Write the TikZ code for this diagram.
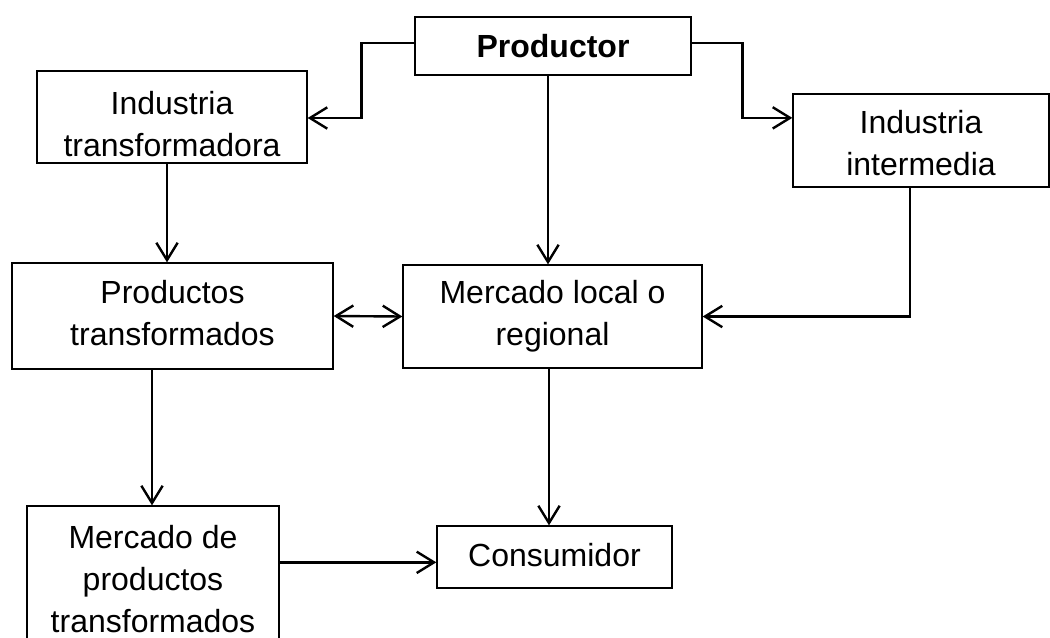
\documentclass[tikz,border=0pt]{standalone}
\usepackage{fontspec}
\setmainfont{Liberation Sans}
\usetikzlibrary{arrows.meta,calc}
\tikzset{
  box/.style={draw=black, line width=1pt, rectangle, inner sep=0pt},
  txt/.style={align=center, inner sep=0pt, font=\fontsize{24}{31.5}\selectfont},
  barb/.tip={Straight Barb[length=13pt,width=16pt,line width=1.8pt]},
  conn/.style={line width=1.8pt, -{barb}},
  conn2/.style={line width=1.8pt, {barb}-{barb}}
}
\begin{document}
\begin{tikzpicture}[x=0.75pt,y=-0.75pt]
\useasboundingbox (0,0) rectangle (1050,637);
\clip (0,0) rectangle (1050,637);
\fill[white] (0,0) rectangle (1050,637);
% boxes
\node[box, minimum width=276*0.75pt, minimum height=58*0.75pt] (prod) at (553,46) {};
\node[box, minimum width=270*0.75pt, minimum height=92*0.75pt] (itrans) at (172,117) {};
\node[box, minimum width=256*0.75pt, minimum height=93*0.75pt] (iinter) at (921,140.5) {};
\node[box, minimum width=321*0.75pt, minimum height=106*0.75pt] (ptrans) at (172.5,316) {};
\node[box, minimum width=299*0.75pt, minimum height=103*0.75pt] (mlocal) at (552.5,316.5) {};
\node[box, minimum width=252*0.75pt, minimum height=146*0.75pt] (mprod) at (153,579) {};
\node[box, minimum width=235*0.75pt, minimum height=62*0.75pt] (cons) at (554.5,557) {};
% texts
\node[txt] (prodT) at ($(prod.center)+(0,0)$) {\textbf{Productor}};
\node[txt] (itransT) at ($(itrans.center)+(0,7)$) {Industria\\transformadora};
\node[txt] (iinterT) at ($(iinter.center)+(0,3)$) {Industria\\intermedia};
\node[txt] (ptransT) at ($(ptrans.center)+(0,-2.5)$) {Productos\\transformados};
\node[txt] (mlocalT) at ($(mlocal.center)+(0,0)$) {Mercado local o\\regional};
\node[txt] (mprodT) at ($(mprod.center)+(0,0)$) {Mercado de\\productos\\transformados};
\node[txt] (consT) at ($(cons.center)+(0,-2)$) {Consumidor};
% connector anchor points
\coordinate (pw) at ($(prod.west)+(0,-3)$);
\coordinate (pe) at ($(prod.east)+(0,-3)$);
\coordinate (ps) at ($(prod.south)+(-5,0)$);
\coordinate (ie) at ($(itrans.east)+(0,1)$);
\coordinate (iw) at ($(iinter.north west)!0.26!(iinter.south west)$);
\coordinate (its) at ($(itrans.south)+(-5,0)$);
\coordinate (iis) at ($(iinter.south)+(-11,0)$);
\coordinate (pts) at ($(ptrans.south)+(-20.5,0)$);
\coordinate (ms) at ($(mlocal.south)+(-3.5,0)$);
\coordinate (me) at ($(mprod.north east)+(0,57)$);
% connectors
\draw[conn] (pw) -- ++(-53,0) |- (ie);
\draw[conn] (pe) -- ++(51,0) |- (iw);
\draw[conn] (ps) -- (ps |- mlocal.north);
\draw[conn] (its) -- (its |- ptrans.north);
\draw[conn2] (ptrans.east) -- (mlocal.west);
\draw[conn] (iis) |- (mlocal.east);
\draw[conn] (pts) -- (pts |- mprod.north);
\draw[conn] (ms) -- (ms |- cons.north);
\draw[conn] (me) -- (me -| cons.west);
\end{tikzpicture}
\end{document}
